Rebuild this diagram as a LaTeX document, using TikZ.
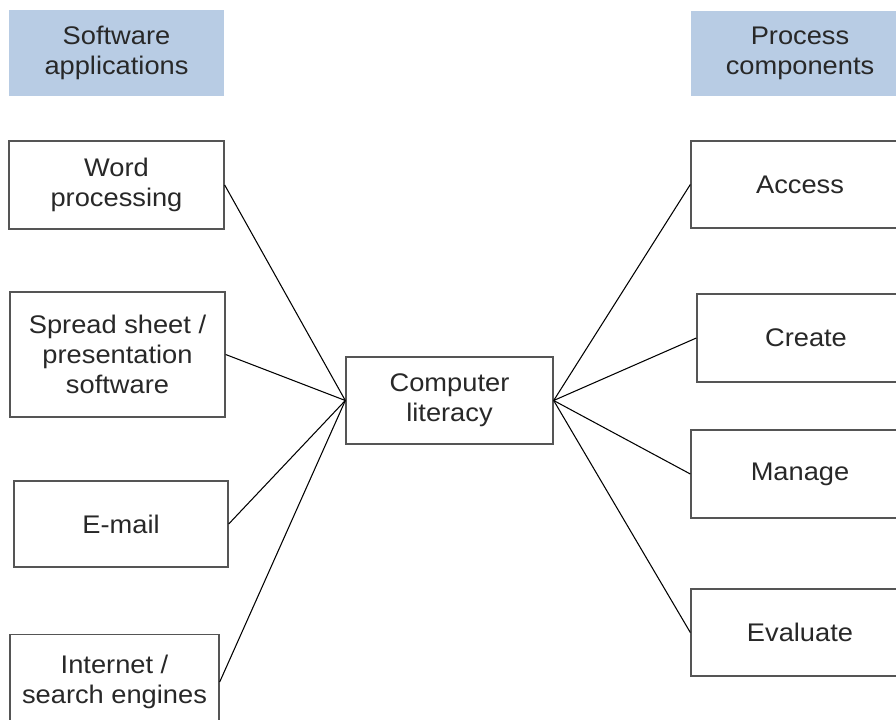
\documentclass[tikz,border=0pt]{standalone}
\usepackage{fontspec}
\setmainfont[FakeStretch=1.07]{Liberation Sans}
\definecolor{headblue}{RGB}{184,204,228}
\definecolor{boxgray}{RGB}{85,85,85}
\definecolor{txtgray}{RGB}{40,40,40}
\begin{document}
\begin{tikzpicture}[x=0.02cm, y=-0.02cm,
    every node/.style={font=\fontsize{14.5}{17}\selectfont, text=txtgray, align=center, inner sep=0pt},
    head/.style={fill=headblue, minimum width=4.3cm, minimum height=1.72cm},
    item/.style={draw=boxgray, line width=0.8pt, fill=white, minimum width=4.3cm, minimum height=1.76cm},
    link/.style={black, line width=0.6pt}]
  \useasboundingbox (0, 0) rectangle (896, 720);
  \clip (0, 0) rectangle (896, 720);
  % headings
  \node[head] (softhead) at (116.5, 53) {Software\\applications};
  \node[head, minimum width=4.36cm] (prochead) at (800, 53.5) {Process\\components};
  % software applications
  \node[item] (word) at (116.5, 185) {Word\\processing};
  \node[item, minimum height=2.5cm] (sheet) at (117.5, 354.5) {Spread sheet /\\presentation\\software};
  \node[item, minimum width=4.28cm, minimum height=1.72cm] (mail) at (121, 524) {E-mail};
  \node[item, minimum width=4.18cm, minimum height=1.9cm] (web) at (114.5, 682) {Internet /\\search engines};
  % centre
  \node[item, minimum width=4.14cm, minimum height=1.74cm] (lit) at (449.5, 400.5) {Computer\\literacy};
  % process components
  \node[item, minimum width=4.36cm, minimum height=1.74cm] (access) at (800, 184.5) {Access};
  \node[item, minimum width=4.36cm, minimum height=1.76cm] (create) at (806, 338) {Create};
  \node[item, minimum width=4.36cm, minimum height=1.76cm] (manage) at (800, 474) {Manage};
  \node[item, minimum width=4.36cm, minimum height=1.74cm] (evaluate) at (800, 632.5) {Evaluate};
  % connectors
  \foreach \n in {word, sheet, mail, web}
    \draw[link] (\n.east) -- (lit.west);
  \foreach \n in {access, create, manage, evaluate}
    \draw[link] (lit.east) -- (\n.west);
\end{tikzpicture}
\end{document}
